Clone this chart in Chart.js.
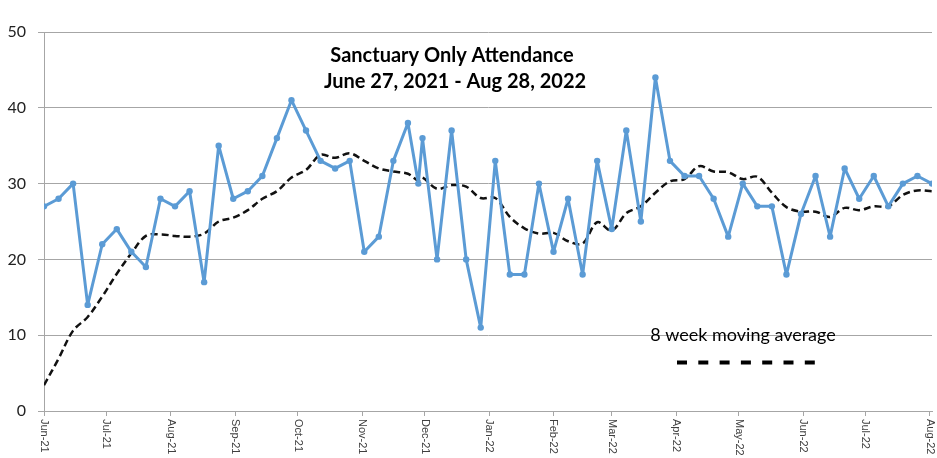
<!DOCTYPE html>
<html>
<head>
<meta charset="utf-8">
<title>Sanctuary Only Attendance</title>
<script src="https://cdn.jsdelivr.net/npm/chart.js@4/dist/chart.umd.min.js"></script>
<style>
  body { margin: 0; background: #fff; }
  #wrap { width: 937px; height: 458px; position: relative; }
</style>
</head>
<body>
<div id="wrap"><canvas id="attendance-chart"></canvas></div>
<script>
// Sunday services (plus Christmas Eve) ==================
const serviceDates = [
  "2021-06-27", "2021-07-04", "2021-07-11", "2021-07-18", "2021-07-25",
  "2021-08-01", "2021-08-08", "2021-08-15", "2021-08-22", "2021-08-29",
  "2021-09-05", "2021-09-12", "2021-09-19", "2021-09-26", "2021-10-03",
  "2021-10-10", "2021-10-17", "2021-10-24", "2021-10-31", "2021-11-07",
  "2021-11-14", "2021-11-21", "2021-11-28", "2021-12-05", "2021-12-12",
  "2021-12-19", "2021-12-24", "2021-12-26", "2022-01-02", "2022-01-09",
  "2022-01-16", "2022-01-23", "2022-01-30", "2022-02-06", "2022-02-13",
  "2022-02-20", "2022-02-27", "2022-03-06", "2022-03-13", "2022-03-20",
  "2022-03-27", "2022-04-03", "2022-04-10", "2022-04-17", "2022-04-24",
  "2022-05-01", "2022-05-08", "2022-05-15", "2022-05-22", "2022-05-29",
  "2022-06-05", "2022-06-12", "2022-06-19", "2022-06-26", "2022-07-03",
  "2022-07-10", "2022-07-17", "2022-07-24", "2022-07-31", "2022-08-07",
  "2022-08-14", "2022-08-21", "2022-08-28"
];

const attendance = [
  27, 28, 30, 14, 22, 24, 21, 19, 28, 27,
  29, 17, 35, 28, 29, 31, 36, 41, 37, 33,
  32, 33, 21, 23, 33, 38, 30, 36, 20, 37,
  20, 11, 33, 18, 18, 30, 21, 28, 18, 33,
  24, 37, 25, 44, 33, 31, 31, 28, 23, 30,
  27, 27, 18, 26, 31, 23, 32, 28, 31, 27,
  30, 31, 30
];

// 8 week moving average
const movingAvg = [
  3.4, 6.9, 10.6, 12.4, 15.1, 18.1, 20.8, 23.1, 23.3, 23.1,
  23.0, 23.4, 25.0, 25.5, 26.5, 28.0, 29.0, 30.8, 31.8, 33.8,
  33.4, 34.0, 33.0, 32.0, 31.6, 31.3, 30.4, 30.8, 29.3, 29.8,
  29.6, 28.1, 28.1, 25.6, 24.1, 23.4, 23.5, 22.4, 22.1, 24.9,
  23.8, 26.1, 27.0, 28.8, 30.3, 30.6, 32.3, 31.6, 31.5, 30.6,
  30.9, 28.8, 26.9, 26.3, 26.3, 25.6, 26.8, 26.5, 27.0, 27.0,
  28.5, 29.1, 29.0
];

// x axis ticks ======================================
const tickDates = [
  "2021-06-27", "2021-07-27", "2021-08-27", "2021-09-27", "2021-10-27",
  "2021-11-27", "2021-12-27", "2022-01-27", "2022-02-27", "2022-03-27",
  "2022-04-27", "2022-05-27", "2022-06-27", "2022-07-27", "2022-08-27"
];
const tickLabels = [
  "Jun-21", "Jul-21", "Aug-21", "Sep-21", "Oct-21", "Nov-21", "Dec-21",
  "Jan-22", "Feb-22", "Mar-22", "Apr-22", "May-22", "Jun-22", "Jul-22", "Aug-22"
];
const yTicks = [0, 10, 20, 30, 40, 50];

const titleLines = ["Sanctuary Only Attendance", "June 27, 2021 - Aug 28, 2022"];
const legendText = "8 week moving average";

// days since first service (no date adapter offline)
const startDay = Date.parse(serviceDates[0]);
function dayOf(s) {
  return Math.round((Date.parse(s) - startDay) / 86400000);
}

const attendancePoints = serviceDates.map((d, i) => ({ x: dayOf(d), y: attendance[i] }));
const avgPoints = serviceDates.map((d, i) => ({ x: dayOf(d), y: movingAvg[i] }));

// plugin block: rotated month labels, title and hand-drawn legend
const chartDecor = {
  id: "chartDecor",
  afterDraw(chart) {
    const { ctx, chartArea, scales: { x } } = chart;
    ctx.save();

    // month labels read top-to-bottom
    ctx.font = "11px 'Liberation Sans', Arial, sans-serif";
    ctx.fillStyle = "#404040";
    ctx.textAlign = "left";
    ctx.textBaseline = "middle";
    tickDates.forEach((d, i) => {
      const px = x.getPixelForValue(dayOf(d));
      ctx.save();
      ctx.translate(px, chartArea.bottom + 8);
      ctx.rotate(Math.PI / 2);
      ctx.fillText(tickLabels[i], 0, 0);
      ctx.restore();
    });

    // title
    ctx.font = "bold 20px Lato, sans-serif";
    ctx.fillStyle = "#000";
    ctx.textAlign = "center";
    ctx.fillText(titleLines[0], 452, 56);
    ctx.fillText(titleLines[1], 455, 82);

    // legend text + dashed sample
    ctx.font = "18px Lato, sans-serif";
    ctx.fillStyle = "#000";
    ctx.fillText(legendText, 743, 335);
    ctx.strokeStyle = "#000";
    ctx.lineWidth = 4;
    ctx.setLineDash([10, 11.3]);
    ctx.beginPath();
    ctx.moveTo(677, 362.5);
    ctx.lineTo(817, 362.5);
    ctx.stroke();

    ctx.restore();
  },
};

const config = {
  type: "line",
  data: {
    datasets: [
      {
        label: "Attendance",
        data: attendancePoints,
        borderColor: "#5B9BD5",
        backgroundColor: "#5B9BD5",
        borderWidth: 3,
        borderJoinStyle: "round",
        borderCapStyle: "round",
        pointRadius: 3.2,
        pointBorderWidth: 0,
        tension: 0,
      },
      {
        label: legendText,
        data: avgPoints,
        borderColor: "#111",
        borderWidth: 2.5,
        borderDash: [7, 4],
        borderJoinStyle: "round",
        pointRadius: 0,
        tension: 0.35,
      },
    ],
  },
  options: {
    responsive: true,
    maintainAspectRatio: false,
    animation: false,
    layout: { padding: { left: 0, right: 5, top: 32, bottom: 0 } },
    plugins: {
      legend: { display: false },
      tooltip: { enabled: false },
    },
    scales: {
      x: {
        type: "linear",
        min: 0,
        max: dayOf(serviceDates[serviceDates.length - 1]),
        afterBuildTicks(scale) {
          scale.ticks = tickDates.map((d) => ({ value: dayOf(d) }));
        },
        afterFit(scale) {
          scale.height = 47;
        },
        ticks: { display: false },
        grid: {
          drawOnChartArea: false,
          drawTicks: true,
          tickLength: 5,
          color: "#a6a6a6",
        },
        border: { color: "#a6a6a6", width: 1 },
      },
      y: {
        min: 0,
        max: 50,
        afterBuildTicks(scale) {
          scale.ticks = yTicks.map((v) => ({ value: v }));
        },
        afterFit(scale) {
          scale.width = 44;
        },
        ticks: {
          padding: 12,
          color: "#222",
          font: { family: "Lato, sans-serif", size: 16 },
        },
        grid: {
          color: "#a6a6a6",
          lineWidth: 1,
          tickLength: 6,
        },
        border: { color: "#a6a6a6", width: 1 },
      },
    },
  },
  plugins: [chartDecor],
};

// render init block
const attendanceChart = new Chart(document.getElementById("attendance-chart"), config);
</script>
</body>
</html>
